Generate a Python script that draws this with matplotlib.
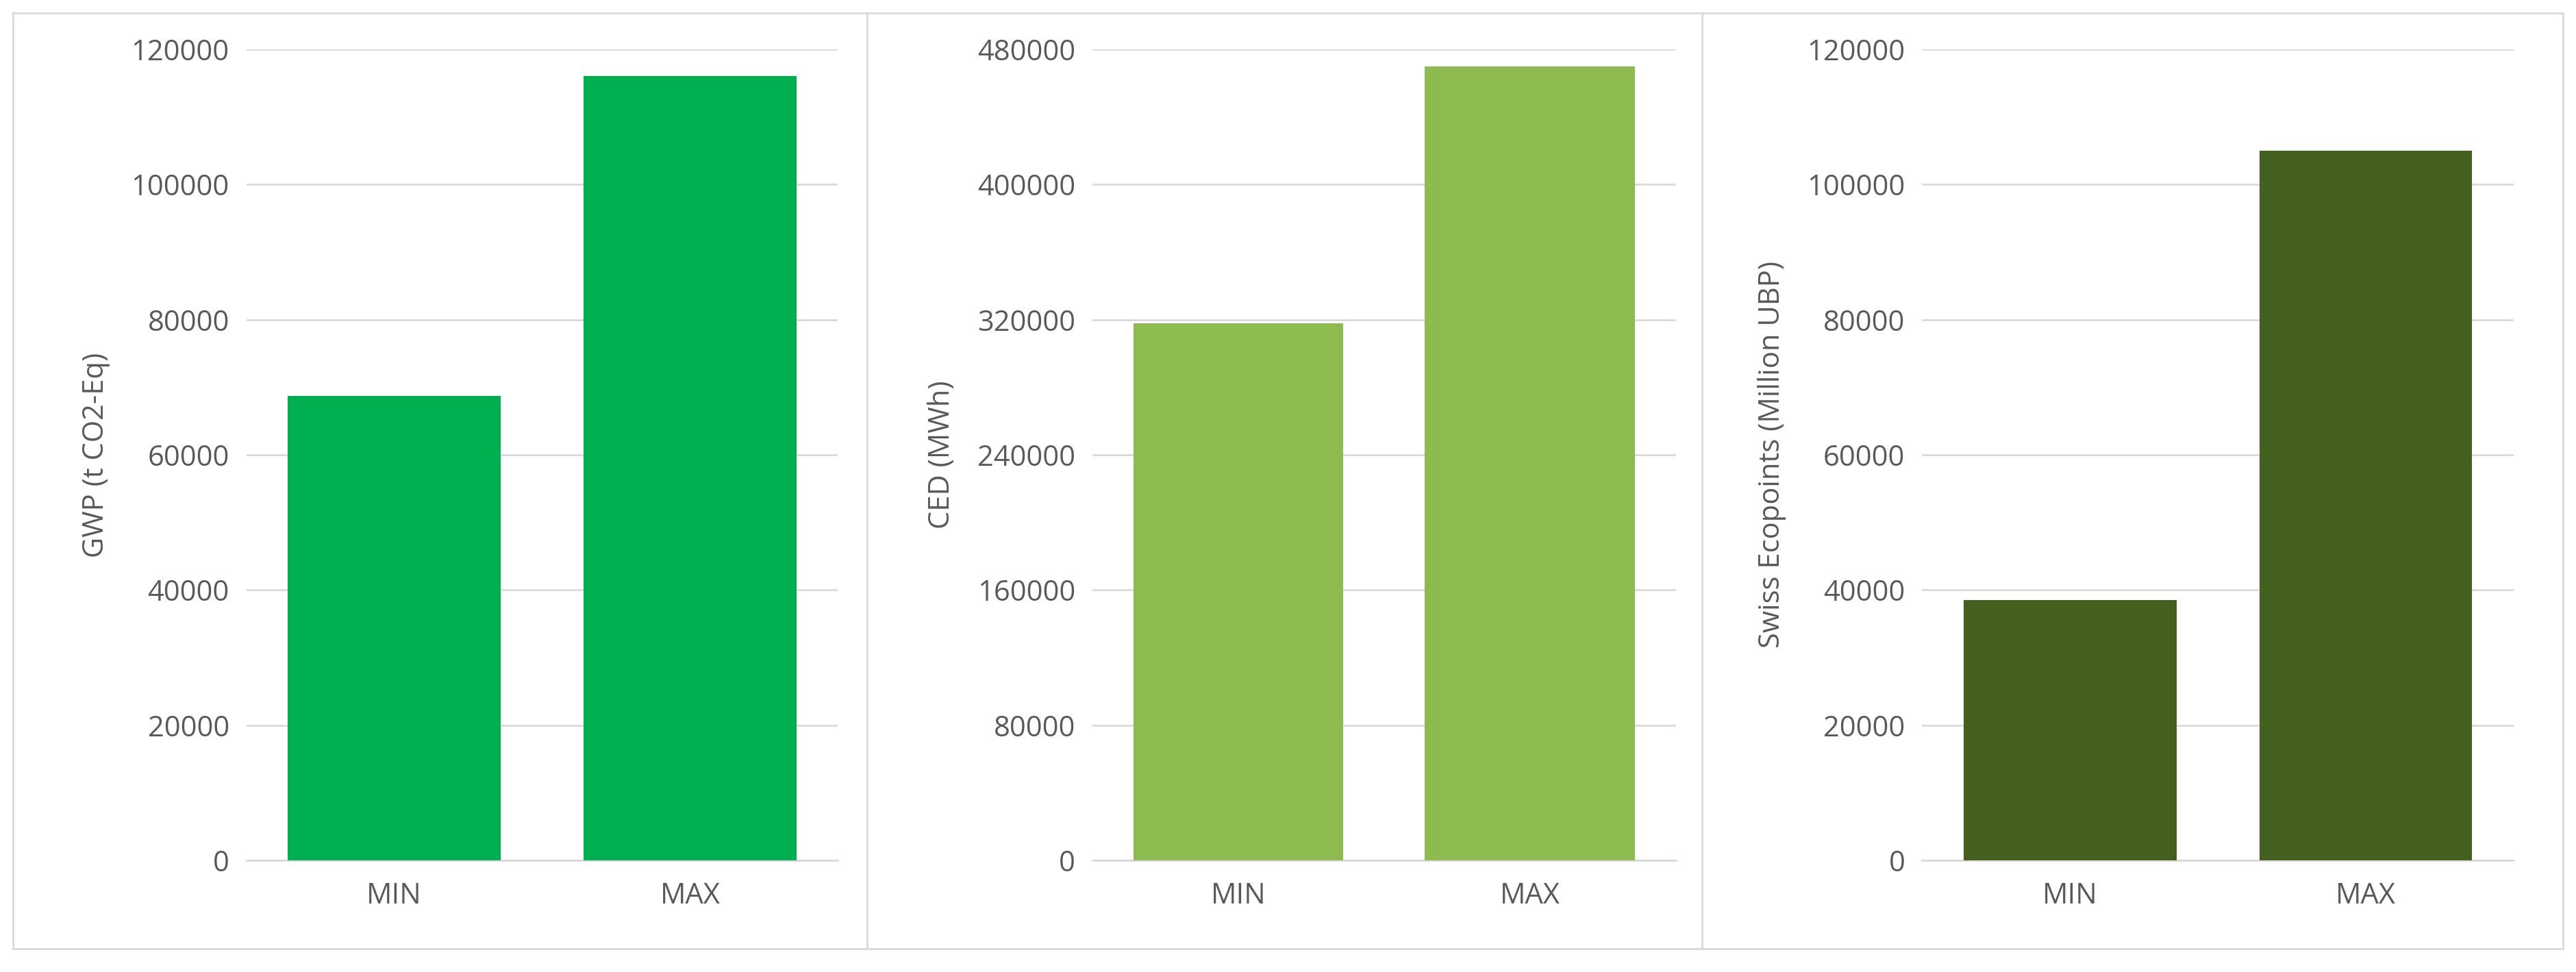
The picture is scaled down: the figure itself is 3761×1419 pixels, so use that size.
import matplotlib
matplotlib.use("Agg")
import matplotlib.pyplot as plt
from matplotlib.patches import Rectangle
from matplotlib.lines import Line2D

CATEGORIES = ["MIN", "MAX"]
GWP = [68700, 116000]
CED = [318000, 470000]
ECO = [38500, 105000]

PANELS = [
    (GWP, "GWP (t CO2-Eq)", "#00B050", 120000, 20000, (150, 510)),
    (CED, "CED (MWh)", "#8DBB50", 480000, 80000, (665, 1020)),
    (ECO, "Swiss Ecopoints (Million UBP)", "#43601E", 120000, 20000, (1170, 1530)),
]

W, H = 1568, 592
fig = plt.figure(figsize=(37.61, 14.19), dpi=100)
plt.rcParams["font.family"] = ["Open Sans", "DejaVu Sans"]

text_col = "#595959"
for vals, label, color, ymax, step, (x0, x1) in PANELS:
    ax = fig.add_axes([x0 / W, 1 - 524 / H, (x1 - x0) / W, (524 - 30) / H])
    ax.bar(range(len(CATEGORIES)), vals, width=0.72, color=color, zorder=3)
    ax.set_xlim(-0.5, 1.5)
    ax.set_ylim(0, ymax)
    ax.set_yticks(range(0, ymax + 1, step))
    ax.set_xticks(range(len(CATEGORIES)))
    ax.set_xticklabels(CATEGORIES)
    ax.grid(axis="y", color="#d9d9d9", linewidth=2, zorder=0)
    for s in ["top", "right", "left"]:
        ax.spines[s].set_visible(False)
    ax.spines["bottom"].set_color("#d9d9d9")
    ax.spines["bottom"].set_linewidth(2)
    ax.tick_params(length=0, labelsize=30, colors=text_col, pad=18)
    ax.tick_params(axis="x", pad=22)
    ax.set_ylabel(label, fontsize=30, color=text_col, labelpad=22)

# panel frames
border = "#d9d9d9"
fig.add_artist(Rectangle((8 / W, 1 - 578 / H), (1560 - 8) / W, (578 - 8) / H,
                         transform=fig.transFigure, fill=False,
                         edgecolor=border, linewidth=2))
for xd in (528, 1036):
    fig.add_artist(Line2D([xd / W, xd / W], [1 - 578 / H, 1 - 8 / H],
                          transform=fig.transFigure, color=border, linewidth=2))

fig.savefig("out.png", dpi=100, facecolor="white")
